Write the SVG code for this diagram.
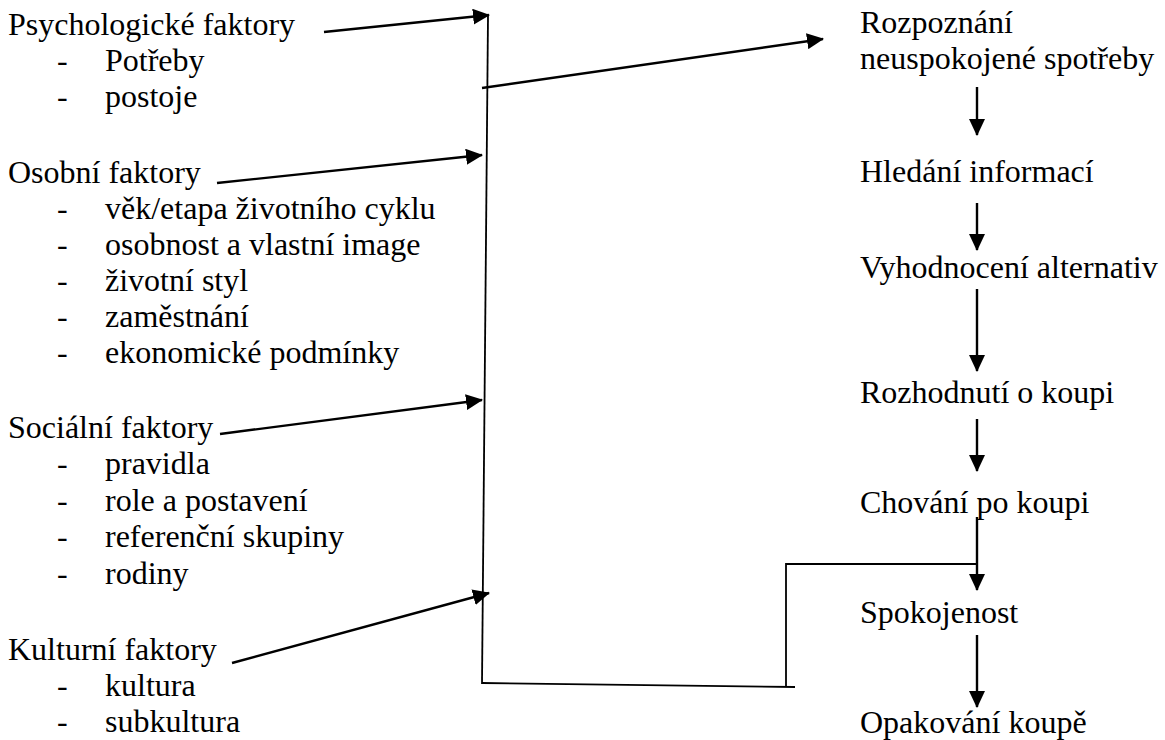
<svg xmlns="http://www.w3.org/2000/svg" width="1165" height="740" viewBox="0 0 1165 740" font-family="'Liberation Serif', 'DejaVu Serif', serif">
<style>
text{font-family:'Liberation Serif','DejaVu Serif',serif;font-size:32px;fill:#000}
.ln{stroke:#000;stroke-width:2.4;fill:none}
.thin{stroke:#000;stroke-width:1.8;fill:none}
.arr{marker-end:url(#ah)}
</style>
<defs>
<marker id="ah" viewBox="0 0 17 16" refX="16" refY="8" markerWidth="17" markerHeight="16" markerUnits="userSpaceOnUse" orient="auto">
<path d="M0,0 L17,8 L0,16 Z" fill="#000"/>
</marker>
</defs>
<rect width="1165" height="740" fill="#fff"/>
<g id="psychologicke">
<text x="8" y="35">Psychologické faktory</text>
<text x="57" y="71">-</text><text x="105" y="71">Potřeby</text>
<text x="57" y="107">-</text><text x="105" y="107">postoje</text>
</g>
<g id="osobni">
<text x="8" y="183">Osobní faktory</text>
<text x="57" y="219">-</text><text x="105" y="219">věk/etapa životního cyklu</text>
<text x="57" y="255">-</text><text x="105" y="255">osobnost a vlastní image</text>
<text x="57" y="291">-</text><text x="105" y="291">životní styl</text>
<text x="57" y="327">-</text><text x="105" y="327">zaměstnání</text>
<text x="57" y="363">-</text><text x="105" y="363">ekonomické podmínky</text>
</g>
<g id="socialni">
<text x="8" y="438">Sociální faktory</text>
<text x="57" y="474">-</text><text x="105" y="474">pravidla</text>
<text x="57" y="511">-</text><text x="105" y="511">role a postavení</text>
<text x="57" y="547">-</text><text x="105" y="547">referenční skupiny</text>
<text x="57" y="584">-</text><text x="105" y="584">rodiny</text>
</g>
<g id="kulturni">
<text x="8" y="660">Kulturní faktory</text>
<text x="57" y="696">-</text><text x="105" y="696">kultura</text>
<text x="57" y="732">-</text><text x="105" y="732">subkultura</text>
</g>
<g id="rozpoznani"><text x="860" y="33">Rozpoznání</text><text x="860" y="69">neuspokojené spotřeby</text></g>
<g id="hledani"><text x="860" y="182">Hledání informací</text></g>
<g id="vyhodnoceni"><text x="860" y="278">Vyhodnocení alternativ</text></g>
<g id="rozhodnuti"><text x="860" y="403">Rozhodnutí o koupi</text></g>
<g id="chovani"><text x="860" y="513">Chování po koupi</text></g>
<g id="spokojenost"><text x="860" y="623">Spokojenost</text></g>
<g id="opakovani"><text x="860" y="733">Opakování koupě</text></g>
<g id="connectors">
<line class="ln arr" x1="324" y1="32" x2="489" y2="15"/>
<line class="ln arr" x1="217" y1="183" x2="482" y2="155"/>
<line class="ln arr" x1="220" y1="434" x2="482" y2="400"/>
<line class="ln arr" x1="232" y1="663" x2="489" y2="593"/>
<line class="thin" x1="488" y1="16" x2="482" y2="684"/>
<line class="ln arr" x1="482" y1="88" x2="823" y2="39"/>
<polyline class="thin" points="482,683 795,687"/>
<polyline class="thin" points="786,687 786,564 977,564"/>
<line class="ln arr" x1="977" y1="87" x2="977" y2="135"/>
<line class="ln arr" x1="977" y1="203" x2="977" y2="250"/>
<line class="ln arr" x1="977" y1="289" x2="977" y2="371"/>
<line class="ln arr" x1="977" y1="419" x2="977" y2="471"/>
<line class="ln arr" x1="977" y1="517" x2="977" y2="590"/>
<line class="ln arr" x1="977" y1="635" x2="977" y2="707"/>
</g>
</svg>
